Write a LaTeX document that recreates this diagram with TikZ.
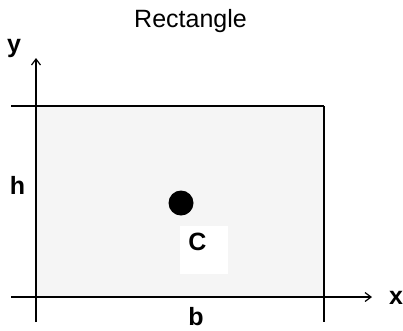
\documentclass[tikz,border=0pt]{standalone}
\usepackage{fontspec}
\setmainfont{Liberation Sans}
\usetikzlibrary{arrows.meta}
\definecolor{rectfill}{HTML}{F5F5F5}
\tikzset{
  axisline/.style={line width=1.5pt, draw=black},
  axisarrow/.style={axisline, -{Straight Barb[length=6pt,width=9pt,line width=1.2pt]}},
  lbl/.style={font=\fontsize{25}{28}\selectfont\bfseries, inner sep=0pt, anchor=base},
  ttl/.style={font=\fontsize{25}{28}\selectfont, inner sep=0pt, anchor=base},
}
\begin{document}
\begin{tikzpicture}[x=1pt,y=-1pt]
\useasboundingbox (0,0) rectangle (403,330);
% rectangle body
\fill[rectfill] (36,106) rectangle (324,297);
% white box behind C
\fill[white] (180,226) rectangle (228,274);
% coordinates
\coordinate (topL) at (11,106);
\coordinate (topR) at (324,106);
\coordinate (rightB) at (324,322);
\coordinate (yB) at (36,322);
\coordinate (yT) at (36,58);
\coordinate (xL) at (11,297);
\coordinate (xR) at (372,297);
% lines
\draw[axisline] (topL) -- (topR);
\draw[axisline] (topR) -- (rightB);
\draw[axisarrow] (yB) -- (yT);
\draw[axisarrow] (xL) -- (xR);
% centroid
\node[circle, fill=black, minimum size=25pt, inner sep=0pt] (dot) at (181,203) {};
% labels
\node[ttl] (title) at (190.5,27) {Rectangle};
\node[lbl] (ylab) at (14,52) {y};
\node[lbl] (hlab) at (17.5,194) {h};
\node[lbl] (xlab) at (396,304) {x};
\node[lbl] (blab) at (196,325.5) {b};
\node[lbl] (clab) at (197.5,250) {C};
\end{tikzpicture}
\end{document}
